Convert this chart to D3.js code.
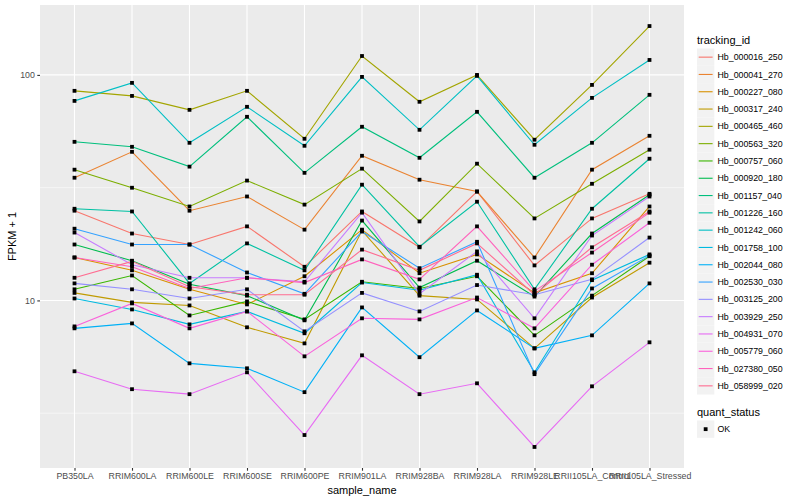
<!DOCTYPE html>
<html>
<head>
<meta charset="utf-8">
<script src="https://d3js.org/d3.v7.min.js"></script>
<style>
  body { margin: 0; background: #fff; }
  text { font-family: "Liberation Sans", Arial, sans-serif; }
</style>
</head>
<body>
<div id="chart"></div>
<script>
// categories on the x axis
var samples = ["PB350LA", "RRIM600LA", "RRIM600LE", "RRIM600SE", "RRIM600PE",
  "RRIM901LA", "RRIM928BA", "RRIM928LA", "RRIM928LE", "RRII105LA_Control", "RRII105LA_Stressed"];

var trackingIds = ["Hb_000016_250", "Hb_000041_270", "Hb_000227_080", "Hb_000317_240",
  "Hb_000465_460", "Hb_000563_320", "Hb_000757_060", "Hb_000920_180", "Hb_001157_040",
  "Hb_001226_160", "Hb_001242_060", "Hb_001758_100", "Hb_002044_080", "Hb_002530_030",
  "Hb_003125_200", "Hb_003929_250", "Hb_004931_070", "Hb_005779_060", "Hb_027380_050",
  "Hb_058999_020"];

// FPKM + 1 per sample, one array per gene
var hb000016_250 = [25.0, 19.8, 17.7, 21.3, 14.1, 24.8, 17.2, 30.4, 14.3, 23.1, 29.7];
var hb000041_270 = [35.0, 45.6, 25.0, 28.9, 20.6, 43.8, 34.3, 30.4, 15.5, 38.0, 53.7];
var hb000227_080 = [15.5, 13.6, 11.2, 9.60, 12.8, 20.6, 13.2, 16.0, 10.8, 13.2, 26.1];
var hb000317_240 = [10.8, 9.80, 9.50, 7.60, 6.45, 20.4, 10.5, 10.1, 6.13, 10.3, 14.7];
var hb000465_460 = [85.0, 80.7, 70.0, 85.0, 52.1, 121.3, 76.0, 100.0, 51.6, 90.3, 164.7];
var hb000563_320 = [38.0, 31.6, 26.1, 34.0, 26.6, 38.4, 22.4, 40.4, 23.1, 32.9, 46.6];
var hb000757_060 = [11.2, 12.9, 8.58, 9.90, 8.24, 12.1, 11.3, 12.8, 7.00, 10.5, 15.7];
var hb000920_180 = [17.7, 15.0, 11.8, 10.5, 8.16, 22.6, 11.4, 15.0, 10.4, 19.8, 29.4];
var hb001157_040 = [50.5, 48.0, 39.2, 65.2, 36.8, 58.9, 42.9, 68.6, 35.0, 50.0, 81.6];
var hb001226_160 = [25.5, 24.8, 11.9, 17.9, 13.6, 32.6, 17.3, 27.4, 11.2, 25.5, 42.5];
var hb001242_060 = [76.7, 92.2, 50.0, 72.2, 48.5, 98.0, 57.1, 99.0, 49.0, 79.1, 116.5];
var hb001758_100 = [10.2, 9.12, 7.83, 8.94, 7.15, 12.0, 11.1, 13.0, 4.80, 12.3, 16.0];
var hb002044_080 = [7.52, 7.91, 5.26, 5.00, 3.92, 9.31, 5.60, 9.03, 6.13, 7.00, 11.9];
var hb002530_030 = [20.8, 17.7, 17.7, 13.3, 10.7, 20.2, 13.9, 18.2, 4.71, 11.3, 15.8];
var hb003125_200 = [11.9, 11.2, 10.2, 11.2, 7.29, 10.8, 8.94, 11.7, 10.6, 12.4, 19.0];
var hb003929_250 = [20.0, 14.4, 12.6, 12.6, 12.1, 24.5, 10.7, 16.5, 8.33, 19.4, 28.9];
var hb004931_070 = [4.85, 4.04, 3.84, 4.80, 2.53, 5.71, 3.84, 4.29, 2.24, 4.16, 6.52];
var hb005779_060 = [7.67, 9.70, 7.52, 8.94, 5.65, 8.33, 8.24, 10.3, 7.52, 14.4, 22.1];
var hb027380_050 = [15.5, 14.1, 11.3, 12.6, 12.0, 15.2, 12.4, 21.3, 11.0, 16.3, 24.5];
var hb058999_020 = [12.6, 14.9, 11.5, 10.6, 10.6, 16.8, 13.6, 17.9, 10.6, 17.2, 24.8];

var seriesValues = [hb000016_250, hb000041_270, hb000227_080, hb000317_240, hb000465_460,
  hb000563_320, hb000757_060, hb000920_180, hb001157_040, hb001226_160, hb001242_060,
  hb001758_100, hb002044_080, hb002530_030, hb003125_200, hb003929_250, hb004931_070,
  hb005779_060, hb027380_050, hb058999_020];

var yTicks = [10, 100];

// ggplot default hue palette for 20 levels
var palette = ["#F8766D", "#EA8331", "#D89000", "#C09B00", "#A3A500", "#7CAE00", "#39B600",
  "#00BB4E", "#00BF7D", "#00C1A3", "#00BFC4", "#00BAE0", "#00B0F6", "#35A2FF", "#9590FF",
  "#C77CFF", "#E76BF3", "#FA62DB", "#FF62BC", "#FF6C91"];

var svgWidth = 800;
var svgHeight = 500;

var margin = {
  top: 5,
  right: 116,
  bottom: 32,
  left: 40
};

var width = svgWidth - margin.left - margin.right;
var height = svgHeight - margin.top - margin.bottom;

var svg = d3.select("#chart")
  .append("svg")
  .attr("width", svgWidth)
  .attr("height", svgHeight);

var chartGroup = svg.append("g")
  .attr("transform", `translate(${margin.left}, ${margin.top})`);

// build long-form rows for the lines
var series = trackingIds.map(function (id, i) {
  return {
    id: id,
    color: palette[i],
    values: samples.map(function (s, j) {
      return { sample: s, value: seriesValues[i][j] };
    })
  };
});

var allValues = d3.merge(seriesValues);

// log scale with ggplot's 5% expansion in transformed space
var logMin = Math.log10(d3.min(allValues));
var logMax = Math.log10(d3.max(allValues));
var pad = (logMax - logMin) * 0.05;

var yLogScale = d3.scaleLog()
  .domain([Math.pow(10, logMin - pad), Math.pow(10, logMax + pad)])
  .range([height, 0]);

var xPointScale = d3.scalePoint()
  .domain(samples)
  .range([0, width])
  .padding(0.6);

// panel background
chartGroup.append("rect")
  .attr("width", width)
  .attr("height", height)
  .attr("fill", "#EBEBEB");

// minor grid lines halfway between decades
var minorTicks = [Math.pow(10, 0.5), Math.pow(10, 1.5), Math.pow(10, 2.5)]
  .filter(function (d) {
    return d > yLogScale.domain()[0] && d < yLogScale.domain()[1];
  });

chartGroup.selectAll(".minor")
  .data(minorTicks)
  .enter()
  .append("line")
  .attr("x1", 0)
  .attr("x2", width)
  .attr("y1", d => yLogScale(d))
  .attr("y2", d => yLogScale(d))
  .attr("stroke", "#fff")
  .attr("stroke-width", 0.55);

chartGroup.selectAll(".hgrid")
  .data(yTicks)
  .enter()
  .append("line")
  .attr("x1", 0)
  .attr("x2", width)
  .attr("y1", d => yLogScale(d))
  .attr("y2", d => yLogScale(d))
  .attr("stroke", "#fff")
  .attr("stroke-width", 1.1);

chartGroup.selectAll(".vgrid")
  .data(samples)
  .enter()
  .append("line")
  .attr("x1", d => xPointScale(d))
  .attr("x2", d => xPointScale(d))
  .attr("y1", 0)
  .attr("y2", height)
  .attr("stroke", "#fff")
  .attr("stroke-width", 1.1);

// lines
var line = d3.line()
  .x(d => xPointScale(d.sample))
  .y(d => yLogScale(d.value));

chartGroup.selectAll(".series")
  .data(series)
  .enter()
  .append("path")
  .attr("d", d => line(d.values))
  .attr("fill", "none")
  .attr("stroke", d => d.color)
  .attr("stroke-width", 1.1);

// points (all quant_status = OK)
var points = d3.merge(series.map(d => d.values));

chartGroup.selectAll(".pt")
  .data(points)
  .enter()
  .append("rect")
  .attr("x", d => xPointScale(d.sample) - 1.9)
  .attr("y", d => yLogScale(d.value) - 1.9)
  .attr("width", 3.8)
  .attr("height", 3.8)
  .attr("fill", "#000");

// axes
var bottomAxis = d3.axisBottom(xPointScale)
  .tickSize(2.7)
  .tickPadding(2.5);

var leftAxis = d3.axisLeft(yLogScale)
  .tickValues(yTicks)
  .tickFormat(d3.format("d"))
  .tickSize(2.7)
  .tickPadding(2.5);

var xAxis = chartGroup.append("g")
  .attr("transform", `translate(0, ${height})`)
  .call(bottomAxis);

var yAxis = chartGroup.append("g")
  .call(leftAxis);

[xAxis, yAxis].forEach(function (ax) {
  ax.select(".domain").remove();
  ax.selectAll(".tick line").attr("stroke", "#333333").attr("stroke-width", 1.1);
  ax.selectAll(".tick text")
    .attr("fill", "#4D4D4D")
    .style("font-size", "8.8px")
    .style("font-family", "'Liberation Sans', Arial, sans-serif");
});

// axis titles
chartGroup.append("text")
  .attr("x", width / 2)
  .attr("y", height + 26)
  .attr("text-anchor", "middle")
  .style("font-size", "11px")
  .text("sample_name");

chartGroup.append("text")
  .attr("transform", "rotate(-90)")
  .attr("x", -height / 2)
  .attr("y", -24)
  .attr("text-anchor", "middle")
  .style("font-size", "11px")
  .text("FPKM + 1");

// legend: tracking_id
var legendGroup = svg.append("g")
  .attr("transform", "translate(697, 0)");

var keyH = 17.3;
var keyTop = 48.5;

legendGroup.append("text")
  .attr("x", 0)
  .attr("y", 44)
  .style("font-size", "11px")
  .text("tracking_id");

var keys = legendGroup.selectAll(".key")
  .data(series)
  .enter()
  .append("g")
  .attr("transform", (d, i) => `translate(0, ${keyTop + i * keyH})`);

keys.append("rect")
  .attr("width", 17.3)
  .attr("height", keyH)
  .attr("fill", "#F2F2F2");

keys.append("line")
  .attr("x1", 1.7)
  .attr("x2", 15.6)
  .attr("y1", keyH / 2)
  .attr("y2", keyH / 2)
  .attr("stroke", d => d.color)
  .attr("stroke-width", 1.1);

keys.append("text")
  .attr("x", 20.5)
  .attr("y", keyH / 2 + 3.1)
  .style("font-size", "8.8px")
  .text(d => d.id);

// legend: quant_status
var statusGroup = svg.append("g")
  .attr("transform", "translate(697, 0)");

statusGroup.append("text")
  .attr("x", 0)
  .attr("y", 416)
  .style("font-size", "11px")
  .text("quant_status");

statusGroup.append("rect")
  .attr("y", 420.5)
  .attr("width", 17.3)
  .attr("height", keyH)
  .attr("fill", "#F2F2F2");

statusGroup.append("rect")
  .attr("x", 8.65 - 1.9)
  .attr("y", 420.5 + keyH / 2 - 1.9)
  .attr("width", 3.8)
  .attr("height", 3.8)
  .attr("fill", "#000");

statusGroup.append("text")
  .attr("x", 20.5)
  .attr("y", 420.5 + keyH / 2 + 3.1)
  .style("font-size", "8.8px")
  .text("OK");
</script>
</body>
</html>
